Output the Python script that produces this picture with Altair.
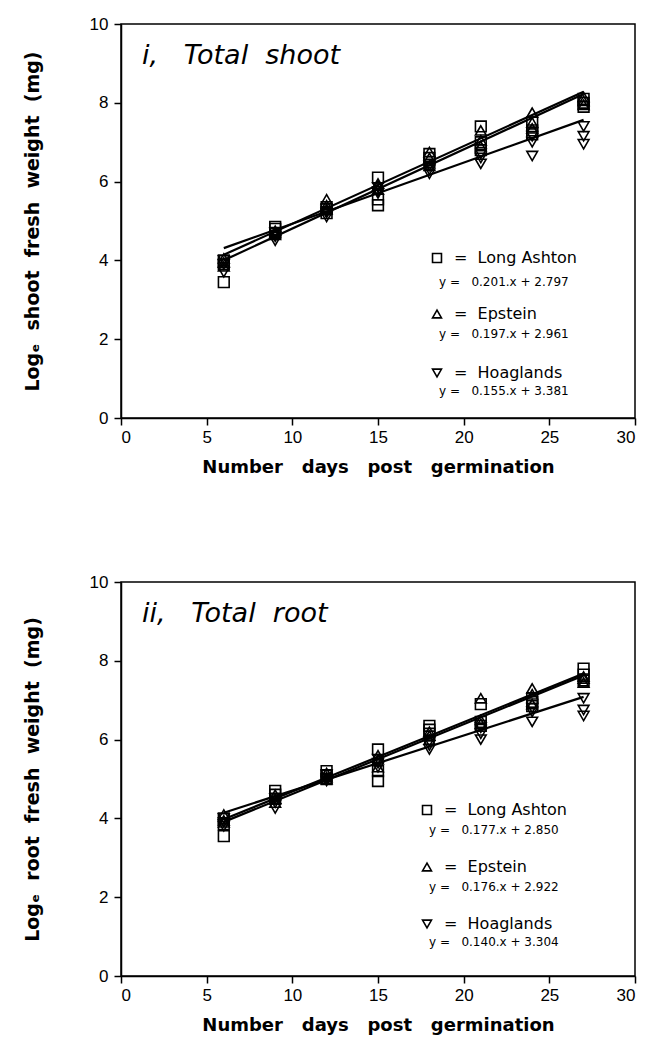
import altair as alt
import pandas as pd

DAYS = [6, 9, 12, 15, 18, 21, 24, 27]
SERIES = ["Long Ashton", "Epstein", "Hoaglands"]
SHAPES = ["square", "triangle-up", "triangle-down"]

# log_e shoot fresh weight (mg), three plants per harvest day
SHOOT_LONG_ASHTON = [[3.45, 3.90, 4.00], [4.70, 4.80, 4.85], [5.20, 5.30, 5.35], [6.10, 5.55, 5.40],
                     [6.70, 6.60, 6.50], [7.40, 7.00, 6.80], [7.50, 7.30, 7.20], [8.10, 8.00, 7.90]]
SHOOT_EPSTEIN = [[3.95, 4.05, 3.85], [4.75, 4.70, 4.65], [5.55, 5.40, 5.30], [5.90, 5.95, 5.80],
                 [6.75, 6.60, 6.40], [7.30, 7.05, 6.90], [7.75, 7.50, 7.35], [8.15, 8.05, 7.95]]
SHOOT_HOAGLANDS = [[3.70, 3.90, 4.00], [4.50, 4.60, 4.70], [5.10, 5.20, 5.25], [5.70, 5.75, 5.85],
                   [6.20, 6.30, 6.40], [6.45, 6.70, 6.60], [6.65, 7.00, 7.15], [7.40, 7.15, 6.95]]

# log_e root fresh weight (mg)
ROOT_LONG_ASHTON = [[3.55, 3.85, 4.00], [4.60, 4.70, 4.50], [5.20, 5.10, 5.00], [5.75, 5.20, 4.95],
                    [6.35, 6.25, 6.15], [6.90, 6.45, 6.35], [7.05, 6.95, 6.85], [7.80, 7.65, 7.50]]
ROOT_EPSTEIN = [[4.10, 3.95, 3.90], [4.60, 4.50, 4.40], [5.15, 5.05, 5.00], [5.60, 5.50, 5.30],
                [6.20, 6.10, 6.00], [7.05, 6.50, 6.40], [7.30, 7.15, 6.90], [7.60, 7.45, 7.55]]
ROOT_HOAGLANDS = [[3.80, 3.90, 4.00], [4.25, 4.40, 4.50], [4.95, 5.00, 5.10], [5.40, 5.30, 5.50],
                  [5.75, 5.85, 5.95], [6.00, 6.15, 6.30], [6.45, 6.70, 6.80], [7.05, 6.75, 6.60]]

# fitted linear regressions  y = slope.x + intercept
SHOOT_SLOPES = [0.201, 0.197, 0.155]
SHOOT_INTERCEPTS = [2.797, 2.961, 3.381]
ROOT_SLOPES = [0.177, 0.176, 0.140]
ROOT_INTERCEPTS = [2.850, 2.922, 3.304]

X_TICKS = [0, 5, 10, 15, 20, 25, 30]
Y_TICKS = [0, 2, 4, 6, 8, 10]

W, H = 514, 394
NB = "\u00a0"


def spaced(words, gap):
    return gap.join(words)


X_TITLE = spaced(["Number", "days", "post", "germination"], NB + NB + " ")


def points_frame(groups):
    rows = []
    for name, reps in zip(SERIES, groups):
        for day, vals in zip(DAYS, reps):
            for v in vals:
                rows.append({"day": day, "value": v, "series": name})
    return pd.DataFrame(rows)


def fits_frame(slopes, intercepts):
    return pd.DataFrame({"series": SERIES, "slope": slopes, "intercept": intercepts,
                         "x0": DAYS[0], "x1": DAYS[-1]})


xs = alt.Scale(domain=[0, 30], nice=False, zero=False)
ys = alt.Scale(domain=[0, 10], nice=False, zero=False)
shape_scale = alt.Scale(domain=SERIES, range=SHAPES)


def panel(groups, slopes, intercepts, label, ytitle, sym_x, txt_x, eq_x, rows_y):
    x_axis = alt.Axis(values=X_TICKS, title=X_TITLE, labelPadding=4, titlePadding=13)
    y_axis = alt.Axis(values=Y_TICKS, title=ytitle, labelPadding=6, titlePadding=47,
                      titleFontSize=19)

    fits = alt.Chart(fits_frame(slopes, intercepts)).transform_calculate(
        y0="datum.slope * datum.x0 + datum.intercept",
        y1="datum.slope * datum.x1 + datum.intercept",
    ).mark_rule(color="black").encode(
        x=alt.X("x0:Q", scale=xs, axis=x_axis),
        x2="x1:Q",
        y=alt.Y("y0:Q", scale=ys, axis=y_axis),
        y2="y1:Q",
        strokeWidth=alt.StrokeWidth("series:N", scale=alt.Scale(domain=SERIES, range=[2.2, 2.2, 1.4]),
                                    legend=None),
    )

    pts = alt.Chart(points_frame(groups)).mark_point(
        filled=False, size=115, strokeWidth=1.6, color="black", opacity=1
    ).encode(
        x=alt.X("day:Q", scale=xs, axis=x_axis),
        y=alt.Y("value:Q", scale=ys, axis=y_axis),
        shape=alt.Shape("series:N", scale=shape_scale, legend=None),
    )

    one = pd.DataFrame({"k": [0]})
    key_layers = []
    for i, name in enumerate(SERIES):
        sy, ey = rows_y[i]
        key_layers.append(
            alt.Chart(one).mark_point(filled=False, size=80, strokeWidth=1.6, color="black", opacity=1,
                                      shape=SHAPES[i]).encode(x=alt.value(sym_x), y=alt.value(sy)))
        key_layers.append(
            alt.Chart(one).mark_text(align="left", baseline="middle", font="DejaVu Sans", fontSize=16,
                                     color="black").encode(
                x=alt.value(txt_x), y=alt.value(sy), text=alt.value("=" + NB + NB + name)))
        eq = "y =" + NB + NB + NB + f"{slopes[i]:.3f}.x + {intercepts[i]:.3f}"
        key_layers.append(
            alt.Chart(one).mark_text(align="left", baseline="middle", font="DejaVu Sans", fontSize=12,
                                     color="black").encode(
                x=alt.value(eq_x), y=alt.value(ey), text=alt.value(eq)))

    head = alt.Chart(one).mark_text(align="left", baseline="middle", font="DejaVu Sans", fontSize=27,
                                    fontStyle="italic", color="black").encode(
        x=alt.value(21), y=alt.value(32), text=alt.value(label))

    return alt.layer(fits, pts, *key_layers, head).properties(width=W, height=H)


top = panel([SHOOT_LONG_ASHTON, SHOOT_EPSTEIN, SHOOT_HOAGLANDS], SHOOT_SLOPES, SHOOT_INTERCEPTS,
            "i," + NB + NB + " Total" + NB + " shoot",
            spaced(["Log\u2091", "shoot", "fresh", "weight", "(mg)"], NB + " "),
            316, 333, 318, [(234, 258), (290, 310), (349, 367)])
bottom = panel([ROOT_LONG_ASHTON, ROOT_EPSTEIN, ROOT_HOAGLANDS], ROOT_SLOPES, ROOT_INTERCEPTS,
               "ii," + NB + NB + " Total" + NB + " root",
               spaced(["Log\u2091", "root", "fresh", "weight", "(mg)"], NB + " "),
               306, 323, 308, [(228, 248), (285, 305), (342, 360)])

chart = alt.vconcat(top, bottom, spacing=95).properties(
    padding={"left": 22, "top": 14, "right": 4, "bottom": 4},
    background="white",
).configure_view(
    stroke="black", strokeWidth=1.5
).configure_axis(
    domainColor="black", domainWidth=1.5, tickColor="black", tickWidth=1.5, tickSize=7,
    labelFont="Liberation Sans", labelFontSize=17, labelColor="black",
    titleFont="DejaVu Sans", titleFontSize=18, titleFontWeight="bold", titleColor="black",
    grid=False,
)

chart.save("out.html", embed_options={"renderer": "svg", "actions": False})
